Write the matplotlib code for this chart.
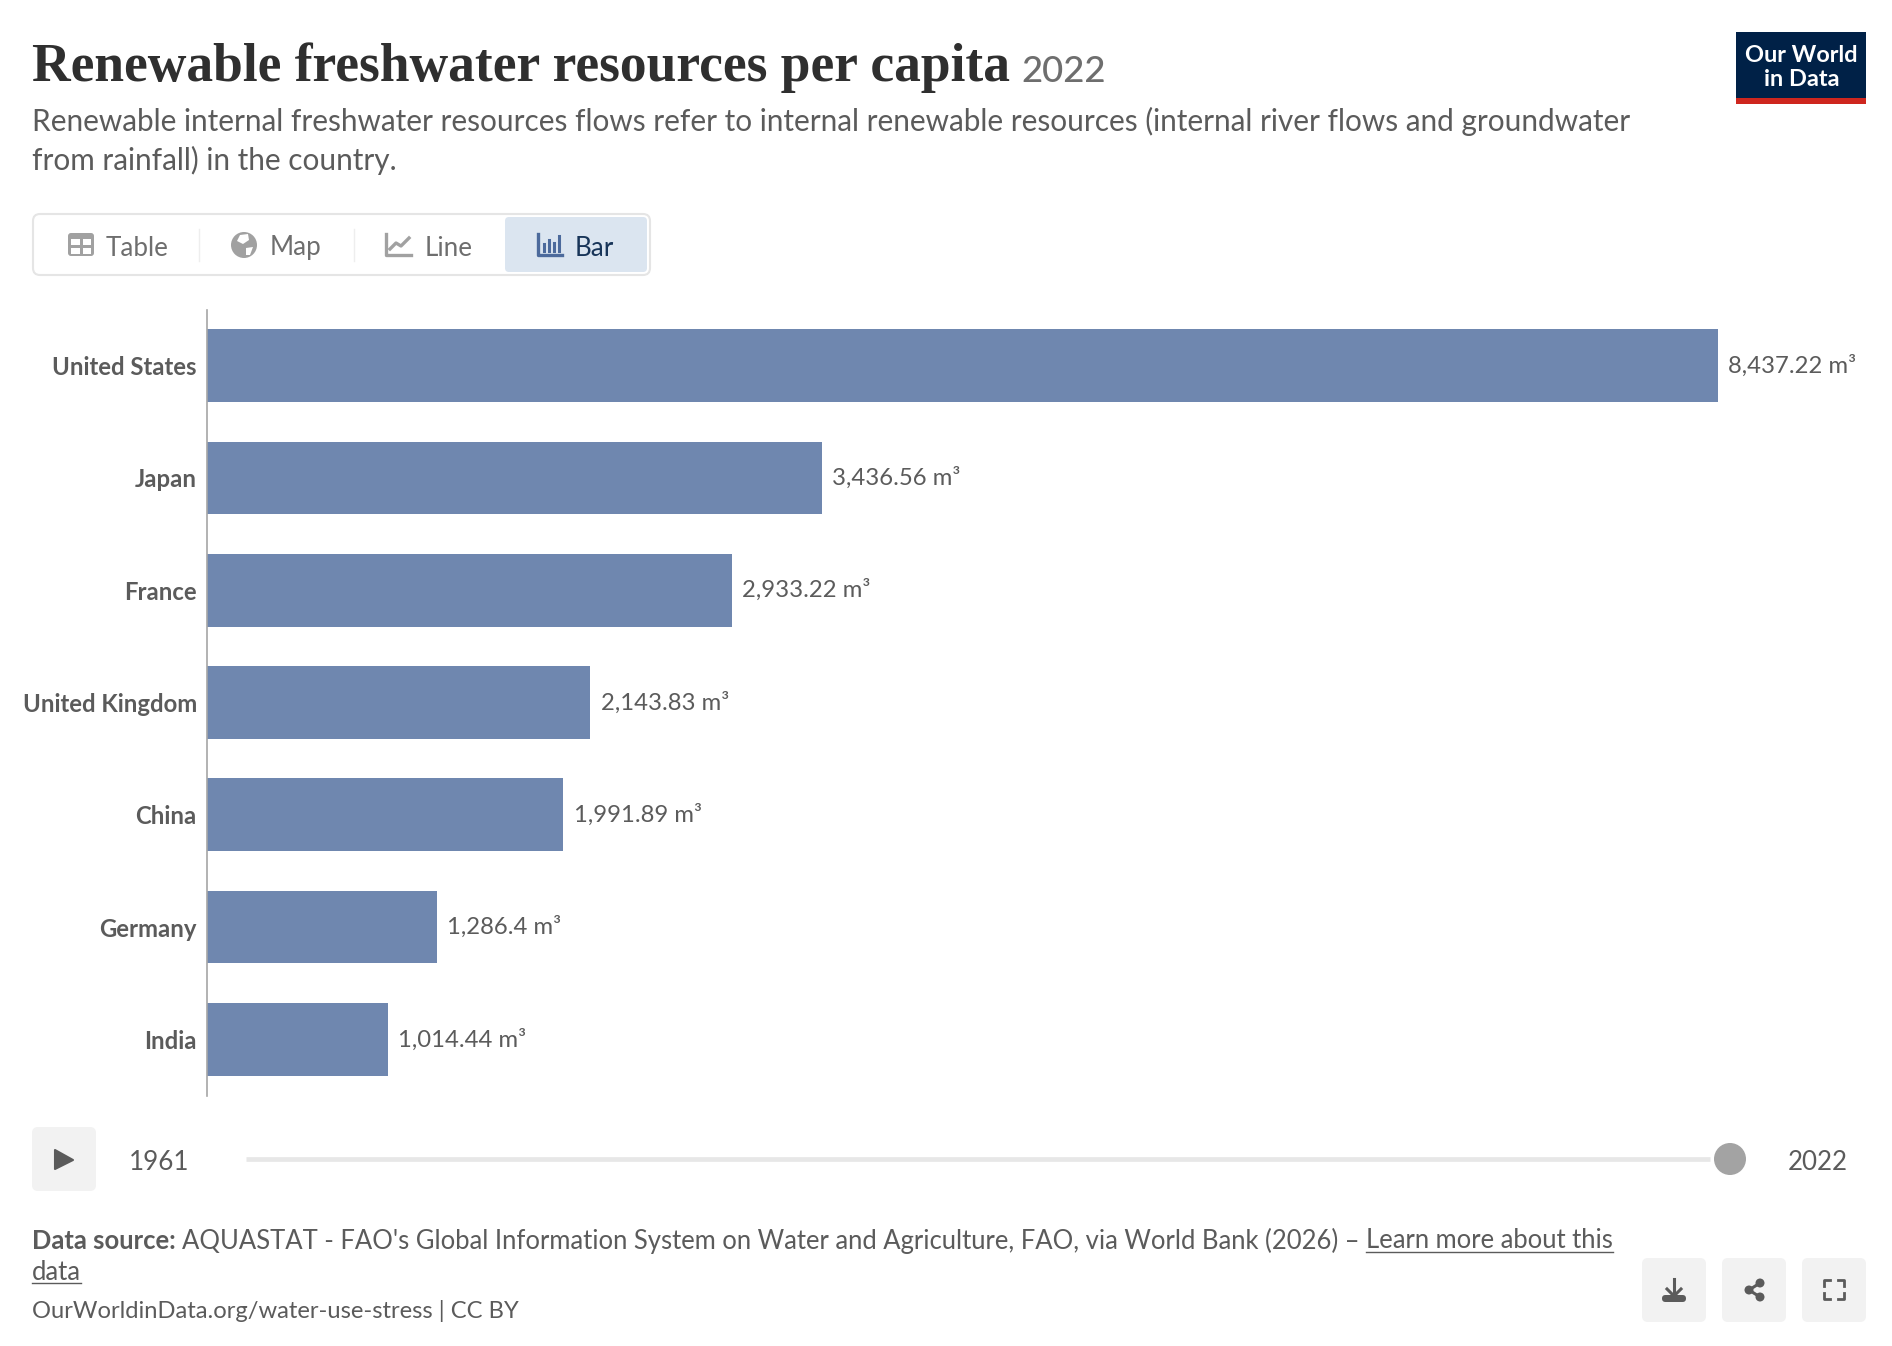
"""
    Renewable freshwater resources per capita, 2022 (Our World in Data bar chart).
"""
# Modules:
import matplotlib
matplotlib.use("Agg")
import matplotlib.pyplot as plt
from matplotlib.patches import Circle, FancyBboxPatch, Polygon, Rectangle

# Data:
countries = ["United States", "Japan", "France", "United Kingdom", "China", "Germany", "India"]
values = [8437.22, 3436.56, 2933.22, 2143.83, 1991.89, 1286.4, 1014.44]
value_labels = ["8,437.22 m³", "3,436.56 m³", "2,933.22 m³", "2,143.83 m³", "1,991.89 m³", "1,286.4 m³", "1,014.44 m³"]
tab_names = ["Table", "Map", "Line", "Bar"]
first_year = "1961"
last_year = "2022"

W, H = 1892, 1346
DARK = "#5b5b5b"
BAR = "#6f87af"
BTN = "#f2f2f2"
px = 0.72  # css pixel to points at dpi 100

plt.rcParams["font.family"] = ["Lato", "DejaVu Sans"]

fig = plt.figure(figsize=(W / 100, H / 100), dpi=100, facecolor="white")

# Overlay in pixel coordinates for everything around the chart:
bg = fig.add_axes([0, 0, 1, 1])
bg.set_xlim(0, W)
bg.set_ylim(H, 0)
bg.axis("off")


def rounded(x, y, w, h, r, **kw):
    bg.add_patch(FancyBboxPatch((x + r, y + r), w - 2 * r, h - 2 * r,
                                boxstyle="round,pad=%f,rounding_size=%f" % (r, r), **kw))


def text_width(t):
    return t.get_window_extent(fig.canvas.get_renderer()).width


# Title:
t = bg.text(32, 68, "Renewable freshwater resources per capita", family="Liberation Serif",
            weight="bold", size=53.5 * px, color="#2f2f2f", va="center")
bg.text(1021, 71, "2022", size=36.5 * px, color="#6e6e6e", va="center", weight="medium")

# Subtitle:
bg.text(32, 121, "Renewable internal freshwater resources flows refer to internal renewable resources (internal river flows and groundwater",
        size=29.8 * px, color=DARK, va="center")
bg.text(32, 160, "from rainfall) in the country.", size=29.8 * px, color=DARK, va="center")

# Logo:
bg.add_patch(Rectangle((1736, 32), 130, 66, color="#002147", lw=0))
bg.add_patch(Rectangle((1736, 98), 130, 6, color="#ce261e", lw=0))
bg.text(1801, 56, "Our World", size=23.5 * px, color="white", ha="center", va="center", weight="bold")
bg.text(1802, 80, "in Data", size=23.5 * px, color="white", ha="center", va="center", weight="bold")

# Tabs:
rounded(33, 214, 617, 61, 7, fc="white", ec="#e5e5e5", lw=1.5)
rounded(505, 217, 142, 55, 4, fc="#dbe5f0", ec="none")
for sx in [199, 354]:
    bg.plot([sx, sx], [229, 261], color="#eeeeee", lw=1)
tab_x = [106, 270, 425, 575]
tab_col = ["#6e6e6e", "#6e6e6e", "#6e6e6e", "#183559"]
for name, x, col in zip(tab_names, tab_x, tab_col):
    bg.text(x, 248, name, size=26 * px, color=col, va="center")

# Table icon:
rounded(68, 233, 26, 23, 3, fc="#a1a1a1", ec="none")
for rx, ry in [(71, 239), (82.5, 239), (71, 247.5), (82.5, 247.5)]:
    bg.add_patch(Rectangle((rx, ry), 8.5, 6, fc="white", lw=0))
# Map icon:
bg.add_patch(Circle((244, 245), 13, fc="#a1a1a1", lw=0))
bg.add_patch(Polygon([(240, 235), (248, 234), (249, 240), (243, 244), (237, 241)], fc="white", lw=0))
bg.add_patch(Polygon([(246, 248), (253, 247), (250, 255), (246, 255)], fc="white", lw=0))
# Line icon:
bg.plot([386, 386, 411], [234, 255, 255], color="#a1a1a1", lw=2.4)
bg.plot([390, 396, 401, 409], [249, 243, 246, 238], color="#a1a1a1", lw=2.4)
# Bar icon:
bg.plot([538, 538, 562], [234, 255, 255], color="#4c6a9c", lw=2.4)
for bx, top in [(544, 244), (549, 240), (554, 243), (559, 236)]:
    bg.plot([bx, bx], [top, 251], color="#4c6a9c", lw=2.2)

# Timeline:
rounded(32, 1127, 64, 64, 6, fc=BTN, ec="none")
bg.add_patch(Polygon([(55, 1150), (55, 1169), (73, 1160)], fc=DARK, ec=DARK, lw=1.5, joinstyle="round"))
bg.text(129, 1162, first_year, size=26 * px, color=DARK, va="center")
bg.plot([246, 1710], [1159, 1159], color="#e7e7e7", lw=3.4, solid_capstyle="butt")
bg.add_patch(Circle((1730, 1159), 16, fc="#a3a3a3", lw=0))
bg.text(1788, 1162, last_year, size=26 * px, color=DARK, va="center")

# Footer:
src = bg.text(32, 1241, "Data source:", size=25.65 * px, color=DARK, va="center", weight="bold")
sx = 32 + text_width(src) + 6
body = bg.text(sx, 1241, "AQUASTAT - FAO's Global Information System on Water and Agriculture, FAO, via World Bank (2026) –",
               size=25.65 * px, color=DARK, va="center")
lx = sx + text_width(body) + 7
link = bg.text(lx, 1241, "Learn more about this", size=25.65 * px, color=DARK, va="center")
bg.plot([lx, lx + text_width(link)], [1252, 1252], color=DARK, lw=1)
data = bg.text(32, 1273, "data", size=25.65 * px, color=DARK, va="center")
bg.plot([32, 32 + text_width(data)], [1283, 1283], color=DARK, lw=1)
bg.text(32, 1311, "OurWorldinData.org/water-use-stress | CC BY", size=23.7 * px, color=DARK, va="center")

# Buttons:
for bx in [1642, 1722, 1802]:
    rounded(bx, 1258, 64, 64, 6, fc=BTN, ec="none")
# Download icon:
bg.plot([1674, 1674], [1279, 1296], color=DARK, lw=2.2)
bg.plot([1667, 1674, 1681], [1289, 1296, 1289], color=DARK, lw=2.2)
rounded(1662, 1295, 24, 7, 3.5, fc=DARK, ec="none")
# Share icon:
bg.plot([1760, 1749, 1760], [1283, 1290, 1297], color=DARK, lw=2.2)
for cx, cy in [(1760, 1283), (1749, 1290), (1760, 1297)]:
    bg.add_patch(Circle((cx, cy), 4.5, fc=DARK, lw=0))
# Fullscreen icon:
for cx, cy, dx, dy in [(1824, 1280, 1, 1), (1844, 1280, -1, 1), (1824, 1299, 1, -1), (1844, 1299, -1, -1)]:
    bg.plot([cx + 6 * dx, cx, cx], [cy, cy, cy + 6 * dy], color=DARK, lw=2)

# Bars:
left, right, top, bottom = 206.5, 1892, 309.5, 1095.5
ax = fig.add_axes([left / W, 1 - bottom / H, (right - left) / W, (bottom - top) / H])
ax.patch.set_alpha(0)
bars = ax.barh(countries, values, height=0.648, color=BAR)
ax.set_ylim(6.5, -0.5)
ax.set_xlim(0, (right - left) * max(values) / 1511)
ax.bar_label(bars, labels=value_labels, padding=7.4, size=23.9 * px, color=DARK)
for s in ["top", "right", "bottom"]:
    ax.spines[s].set_visible(False)
ax.spines["left"].set_color("#a6a6a6")
ax.spines["left"].set_linewidth(1.2)
ax.set_xticks([])
ax.tick_params(axis="y", length=0, pad=7, labelsize=23.9 * px, labelcolor=DARK)
for lab in ax.get_yticklabels():
    lab.set_fontweight("bold")

fig.savefig("out.png", dpi=100)
